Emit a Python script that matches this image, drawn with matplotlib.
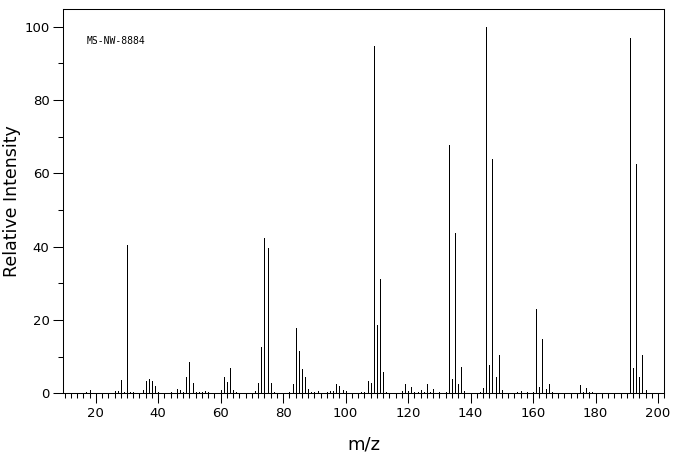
import matplotlib
matplotlib.use("Agg")
import matplotlib.pyplot as plt
from matplotlib.ticker import MultipleLocator

mz = [17, 18, 26, 27, 28, 29, 30, 31, 32, 35, 36, 37, 38, 39, 40, 44, 46, 47, 48, 49,
      50, 51, 52, 53, 54, 55, 56, 60, 61, 62, 63, 64, 65, 71, 72, 73, 74, 75, 76, 77,
      82, 83, 84, 85, 86, 87, 88, 89, 90, 91, 94, 95, 96, 97, 98, 99, 100, 105, 106, 107,
      108, 109, 110, 111, 112, 113, 118, 119, 120, 121, 122, 123, 124, 125, 126, 127, 128,
      130, 132, 133, 134, 135, 136, 137, 138, 143, 144, 145, 146, 147, 148, 149, 150, 155,
      156, 158, 160, 161, 162, 163, 164, 165, 166, 175, 176, 177, 178, 179, 191, 192, 193,
      194, 195, 196]
intensity = [0.4, 0.9, 0.6, 0.6, 3.6, 0.4, 40.3, 0.4, 0.4, 0.9, 3.4, 3.9, 3.4, 2.0, 0.4, 0.4,
             1.2, 0.9, 0.4, 4.5, 8.6, 2.8, 0.4, 0.4, 0.4, 0.6, 0.4, 0.9, 4.5, 3.1, 6.9, 0.9,
             0.4, 0.6, 2.8, 12.7, 42.4, 39.5, 2.8, 0.4, 0.4, 2.6, 17.9, 11.5, 6.7, 4.5, 1.2,
             0.4, 0.4, 0.6, 0.4, 0.6, 0.6, 2.6, 2.0, 0.9, 0.6, 0.4, 0.4, 3.4, 2.8, 94.8, 18.7,
             31.2, 5.8, 0.4, 0.6, 2.6, 0.6, 1.7, 0.4, 0.4, 0.9, 0.4, 2.6, 0.4, 1.2, 0.4, 0.4,
             67.6, 3.9, 43.8, 2.6, 7.2, 0.6, 0.4, 1.5, 100.0, 7.8, 63.8, 4.5, 10.5, 0.9, 0.4,
             0.6, 0.4, 0.4, 23.1, 1.7, 14.9, 1.2, 2.6, 0.4, 2.3, 0.4, 1.5, 0.4, 0.4, 96.8, 6.9,
             62.5, 4.5, 10.5, 0.9]

x_ticks = [20, 40, 60, 80, 100, 120, 140, 160, 180, 200]
y_ticks = [0, 20, 40, 60, 80, 100]
label_id = "MS-NW-8884"

fig = plt.figure(figsize=(6.76, 4.55), dpi=100)
ax = fig.add_axes([0.0936, 0.1356, 0.8891, 0.8440])

ax.vlines(mz, 0, intensity, colors="black", linewidth=0.72, antialiased=False)

ax.set_xlim(9.6, 202.0)
ax.set_ylim(0, 104.7)

ax.set_xticks(x_ticks)
ax.set_yticks(y_ticks)
ax.xaxis.set_minor_locator(MultipleLocator(2))
ax.yaxis.set_minor_locator(MultipleLocator(10))
ax.tick_params(axis="both", which="major", direction="out", length=7, width=0.75,
               labelsize=9.5, color="black")
ax.tick_params(axis="both", which="minor", direction="out", length=3.5, width=0.75,
               color="black")
ax.tick_params(axis="x", which="major", pad=3)
ax.tick_params(axis="y", which="major", pad=3)

for s in ax.spines.values():
    s.set_linewidth(0.75)
    s.set_color("black")

ax.set_xlabel("m/z", fontsize=13, labelpad=11)
ax.set_ylabel("Relative Intensity", fontsize=12.5, labelpad=2)

ax.text(0.039, 0.9175, label_id, transform=ax.transAxes, fontsize=7,
        family="DejaVu Sans Mono", ha="left", va="center")

fig.savefig("out.png", dpi=100)
